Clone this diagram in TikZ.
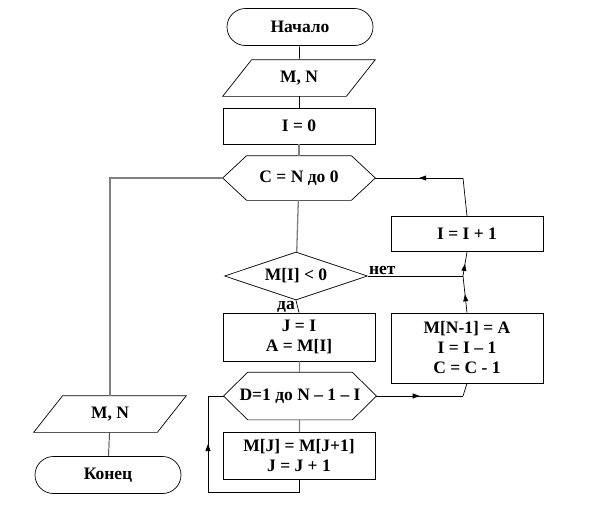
\documentclass[tikz,border=0pt]{standalone}
\usepackage{fontspec}
\setmainfont{Liberation Serif}
\usetikzlibrary{shapes.geometric,shapes.misc,arrows.meta,decorations.markings}
\tikzset{
  blockbox/.style={draw, line width=0.7pt, minimum width=152pt, align=center,
    font=\fontsize{17.5}{20}\bfseries\selectfont, inner sep=2pt},
  termbox/.style={blockbox, rounded rectangle, minimum width=150pt, minimum height=37pt},
  iobox/.style={blockbox, draw=none, minimum height=36pt},
  procbox/.style={blockbox, rectangle},
  loopbox/.style={blockbox, draw=none},
  condbox/.style={blockbox, diamond, minimum width=143pt, minimum height=48pt, inner sep=0pt, aspect=3},
  frame/.style={line width=0.7pt},
  flowline/.style={line width=0.7pt},
  mainline/.style={line width=1.3pt, gray},
  midarrow/.style={flowline, postaction={decorate}, decoration={markings,
    mark=at position 0.5 with {\arrow{Triangle[length=7pt,width=5pt]}}}},
  tag/.style={font=\fontsize{17.5}{20}\bfseries\selectfont, inner sep=1pt}
}
% outlines for input/output and loop blocks
\newcommand\ioframe[1]{\draw[frame] ([xshift=29pt]#1.north west) -- (#1.north east)
  -- ([xshift=-29pt]#1.south east) -- (#1.south west) -- cycle;}
\newcommand\loopframe[1]{\draw[frame] (#1.west) -- ([xshift=24pt]#1.north west)
  -- ([xshift=-24pt]#1.north east) -- (#1.east) -- ([xshift=-24pt]#1.south east)
  -- ([xshift=24pt]#1.south west) -- cycle;}
\begin{document}
\begin{tikzpicture}[x=1pt, y=-1pt]
  \useasboundingbox (0,0) rectangle (600,504);

  % Main column
  \node[termbox] (start) at (300,27) {Начало};
  \node[iobox] (input) at (299,78) {M, N};
  \node[procbox, minimum height=36pt] (init) at (299,126) {I = 0};
  \node[loopbox, minimum height=44pt] (loopC) at (299,178) {C = N до 0};
  \node[condbox] (cond) at (296,276) {M[I] < 0};
  \node[procbox, minimum height=48pt] (swap) at (299,337) {J = I\\A = M[I]};
  \node[loopbox, minimum height=47pt] (loopD) at (300,396) {D=1 до N – 1 – I};
  \node[procbox, minimum height=47pt] (shift) at (299,456) {M[J] = M[J+1]\\J = J + 1};

  % Right column
  \node[procbox, minimum height=35pt] (inc) at (467,234) {I = I + 1};
  \node[procbox, minimum height=70pt] (upd) at (467,348) {M[N-1] = A\\I = I – 1\\C = C - 1};

  % Left column
  \node[iobox] (output) at (110,414) {M, N};
  \node[termbox] (stop) at (108,475) {Конец};

  \ioframe{input}
  \ioframe{output}
  \loopframe{loopC}
  \loopframe{loopD}

  % Corner points
  \coordinate (cTop) at (463,178);
  \coordinate (cNo) at (463,276);
  \coordinate (cD) at (463,396);
  \coordinate (cLow) at (208,492);
  \coordinate (cUp) at (208,396);

  % Connectors
  \draw[flowline] (start) -- (input);
  \draw[flowline] (input) -- (init);
  \draw[mainline] (init) -- (loopC);
  \draw[mainline] (loopC) -- (cond);
  \draw[mainline] (swap) -- (loopD);
  \draw[mainline] (loopD) -- (shift);
  \draw[mainline] (loopC.west) -| (output.north);
  \draw[flowline] (output) -- (stop);

  \draw[flowline] (cond.south) -- (swap.north);
  \node[tag, anchor=north east] at (cond.south) {да};
  \draw[flowline] (cond.east) -- (cNo);
  \node[tag, anchor=south west] at (cond.east) {нет};

  \draw[midarrow] (upd.north) -- (cNo);
  \draw[midarrow] (cNo) -- (inc.south);
  \draw[flowline] (inc.north) -- (cTop);
  \draw[midarrow] (cTop) -- (loopC.east);

  \draw[midarrow] (loopD.east) -- (cD);
  \draw[flowline] (cD) -- (upd.south);

  \draw[flowline] (shift.south) |- (cLow);
  \draw[midarrow] (cLow) -- (cUp);
  \draw[flowline] (cUp) -- (loopD.west);
\end{tikzpicture}
\end{document}
